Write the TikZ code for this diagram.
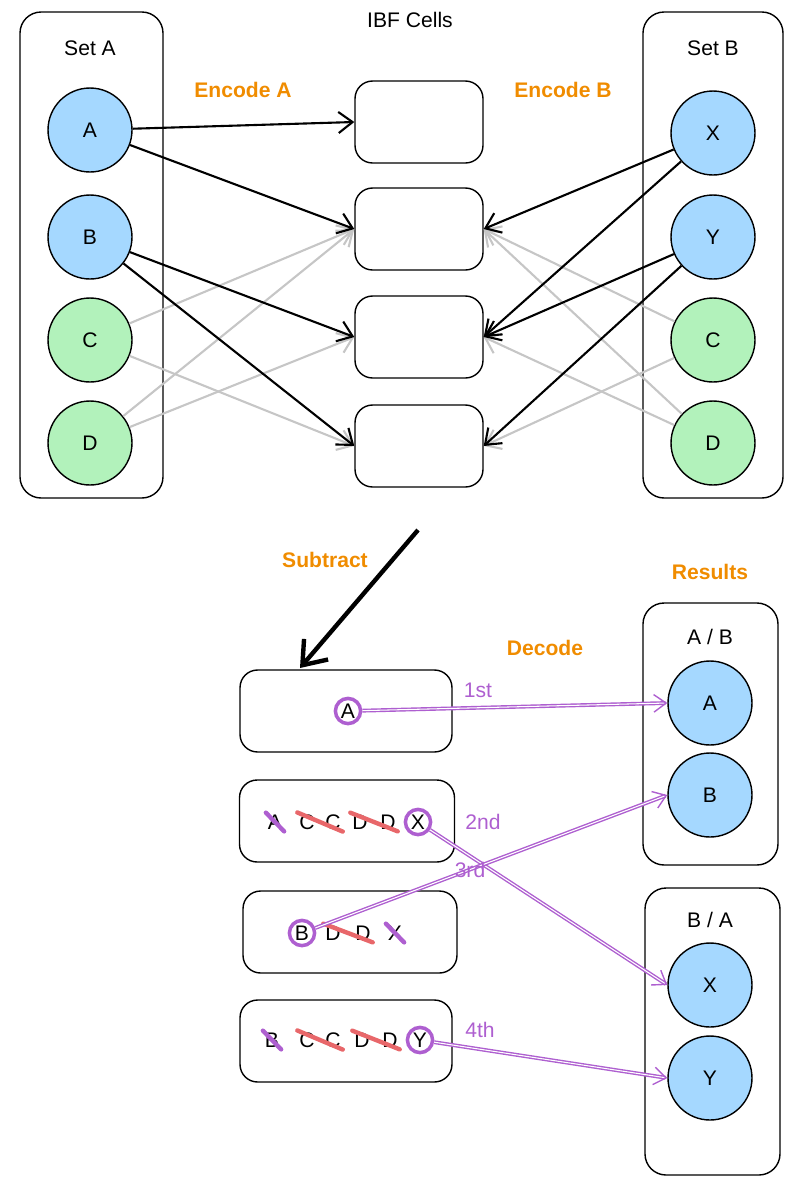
\documentclass[tikz,border=0pt]{standalone}
\usepackage{fontspec}
\setmainfont{Liberation Sans}
\usetikzlibrary{positioning, arrows.meta}
\definecolor{blueitem}{HTML}{A5D8FF}
\definecolor{greenitem}{HTML}{B2F2BB}
\definecolor{orangelabel}{HTML}{F08C00}
\definecolor{purplemark}{HTML}{AE5FD0}
\definecolor{redmark}{HTML}{E8676A}
\begin{document}
\begin{tikzpicture}[x=0.02cm, y=-0.02cm,
setbox/.style={draw, thick, rounded corners=12pt},
cell/.style={draw, thick, rounded corners=10pt, minimum width=2.56cm, minimum height=1.64cm},
item/.style={circle, draw, thick, minimum size=1.68cm, font=\large},
blue/.style={item, fill=blueitem},
green/.style={item, fill=greenitem},
lbl/.style={font=\large},
orange/.style={font=\large\bfseries, text=orangelabel},
enc/.style={-{Straight Barb[length=8pt,width=12pt]}, line width=1.2pt},
faint/.style={-{Straight Barb[length=8pt,width=12pt]}, line width=1.2pt, gray!45},
pick/.style={-{Straight Barb[length=7pt,width=10pt]}, purplemark, thick, double},
letter/.style={inner sep=1pt, font=\large},
ring/.style={letter, circle, draw=purplemark, line width=2pt},
strike/.style={line width=2.5pt, line cap=round, redmark},
cross/.style={line width=2.5pt, line cap=round, purplemark}]
\useasboundingbox (0,0) rectangle (807,1184);
% sets
\draw[setbox] (20,12) rectangle (163,498);
\draw[setbox] (643,12) rectangle (783,498);
\node[lbl] at (90,48) {Set A};
\node[lbl] at (713,48) {Set B};
\node[blue] (a) at (90,130) {A};
\node[blue] (b) at (90,237) {B};
\node[green] (ca) at (90,340) {C};
\node[green] (da) at (90,443) {D};
\node[blue] (x) at (713,133) {X};
\node[blue] (y) at (713,237) {Y};
\node[green] (cb) at (713,340) {C};
\node[green] (db) at (713,443) {D};
% cells
\node[lbl] at (410,20) {IBF Cells};
\node[cell] (c1) at (419,122) {};
\node[cell] (c2) at (419,229) {};
\node[cell] (c3) at (419,337) {};
\node[cell] (c4) at (419,446) {};
\node[orange] at (243,90) {Encode A};
\node[orange] at (563,90) {Encode B};
% encode
\draw[faint] (ca) -- (c2.west);
\draw[faint] (ca) -- (c4.west);
\draw[faint] (da) -- (c2.west);
\draw[faint] (da) -- (c3.west);
\draw[faint] (cb) -- (c2.east);
\draw[faint] (cb) -- (c4.east);
\draw[faint] (db) -- (c2.east);
\draw[faint] (db) -- (c3.east);
\draw[enc] (a) -- (c1.west);
\draw[enc] (a) -- (c2.west);
\draw[enc] (b) -- (c3.west);
\draw[enc] (b) -- (c4.west);
\draw[enc] (x) -- (c2.east);
\draw[enc] (x) -- (c3.east);
\draw[enc] (y) -- (c3.east);
\draw[enc] (y) -- (c4.east);
% subtract
\coordinate (s0) at (418,530);
\coordinate (s1) at (300,668);
\draw[-{Straight Barb[length=12pt,width=18pt]}, line width=2.5pt] (s0) -- (s1);
\node[orange] at (325,560) {Subtract};
\node[orange] at (545,648) {Decode};
\node[orange] at (710,572) {Results};
% results
\draw[setbox] (643,603) rectangle (778,865);
\draw[setbox] (645,888) rectangle (780,1175);
\node[lbl] at (710,637) {A / B};
\node[lbl] at (710,920) {B / A};
\node[blue] (ra) at (710,703) {A};
\node[blue] (rb) at (710,795) {B};
\node[blue] (rx) at (710,985) {X};
\node[blue] (ry) at (710,1078) {Y};
% decoded cells
\node[cell, minimum width=4.24cm] (d1) at (346,711) {};
\node[cell, minimum width=4.3cm] (d2) at (347,821) {};
\node[cell, minimum width=4.28cm] (d3) at (350,932) {};
\node[cell, minimum width=4.24cm] (d4) at (346,1041) {};
\node[ring] (p1) at (348,711) {A};
\foreach \t/\px [count=\i] in {A/275,C/307,C/333,D/360,D/388}
  \node[letter] (q\i) at (\px,822) {\t};
\node[ring] (p2) at (418,822) {X};
\node[ring] (p3) at (302,933) {B};
\foreach \t/\px [count=\i] in {D/333,D/363,X/395}
  \node[letter] (r\i) at (\px,933) {\t};
\foreach \t/\px [count=\i] in {B/272,C/307,C/333,D/362,D/390}
  \node[letter] (t\i) at (\px,1040) {\t};
\node[ring] (p4) at (420,1040) {Y};
% strikes
\draw[cross] (q1.north west) -- (q1.south east);
\draw[strike] (q2.north west) -- (q3.south east);
\draw[strike] (q4.north west) -- (q5.south east);
\draw[strike] (r1.north west) -- (r2.south east);
\draw[cross] (r3.north west) -- (r3.south east);
\draw[cross] (t1.north west) -- (t1.south east);
\draw[strike] (t2.north west) -- (t3.south east);
\draw[strike] (t4.north west) -- (t5.south east);
% decode
\draw[pick] (p1) -- (ra.west);
\draw[pick] (p2) -- (rx.west);
\draw[pick] (p3) -- (rb.west);
\draw[pick] (p4) -- (ry.west);
\node[lbl, text=purplemark] at (478,690) {1st};
\node[lbl, text=purplemark] at (483,822) {2nd};
\node[lbl, text=purplemark] at (470,870) {3rd};
\node[lbl, text=purplemark] at (480,1030) {4th};
\end{tikzpicture}
\end{document}
